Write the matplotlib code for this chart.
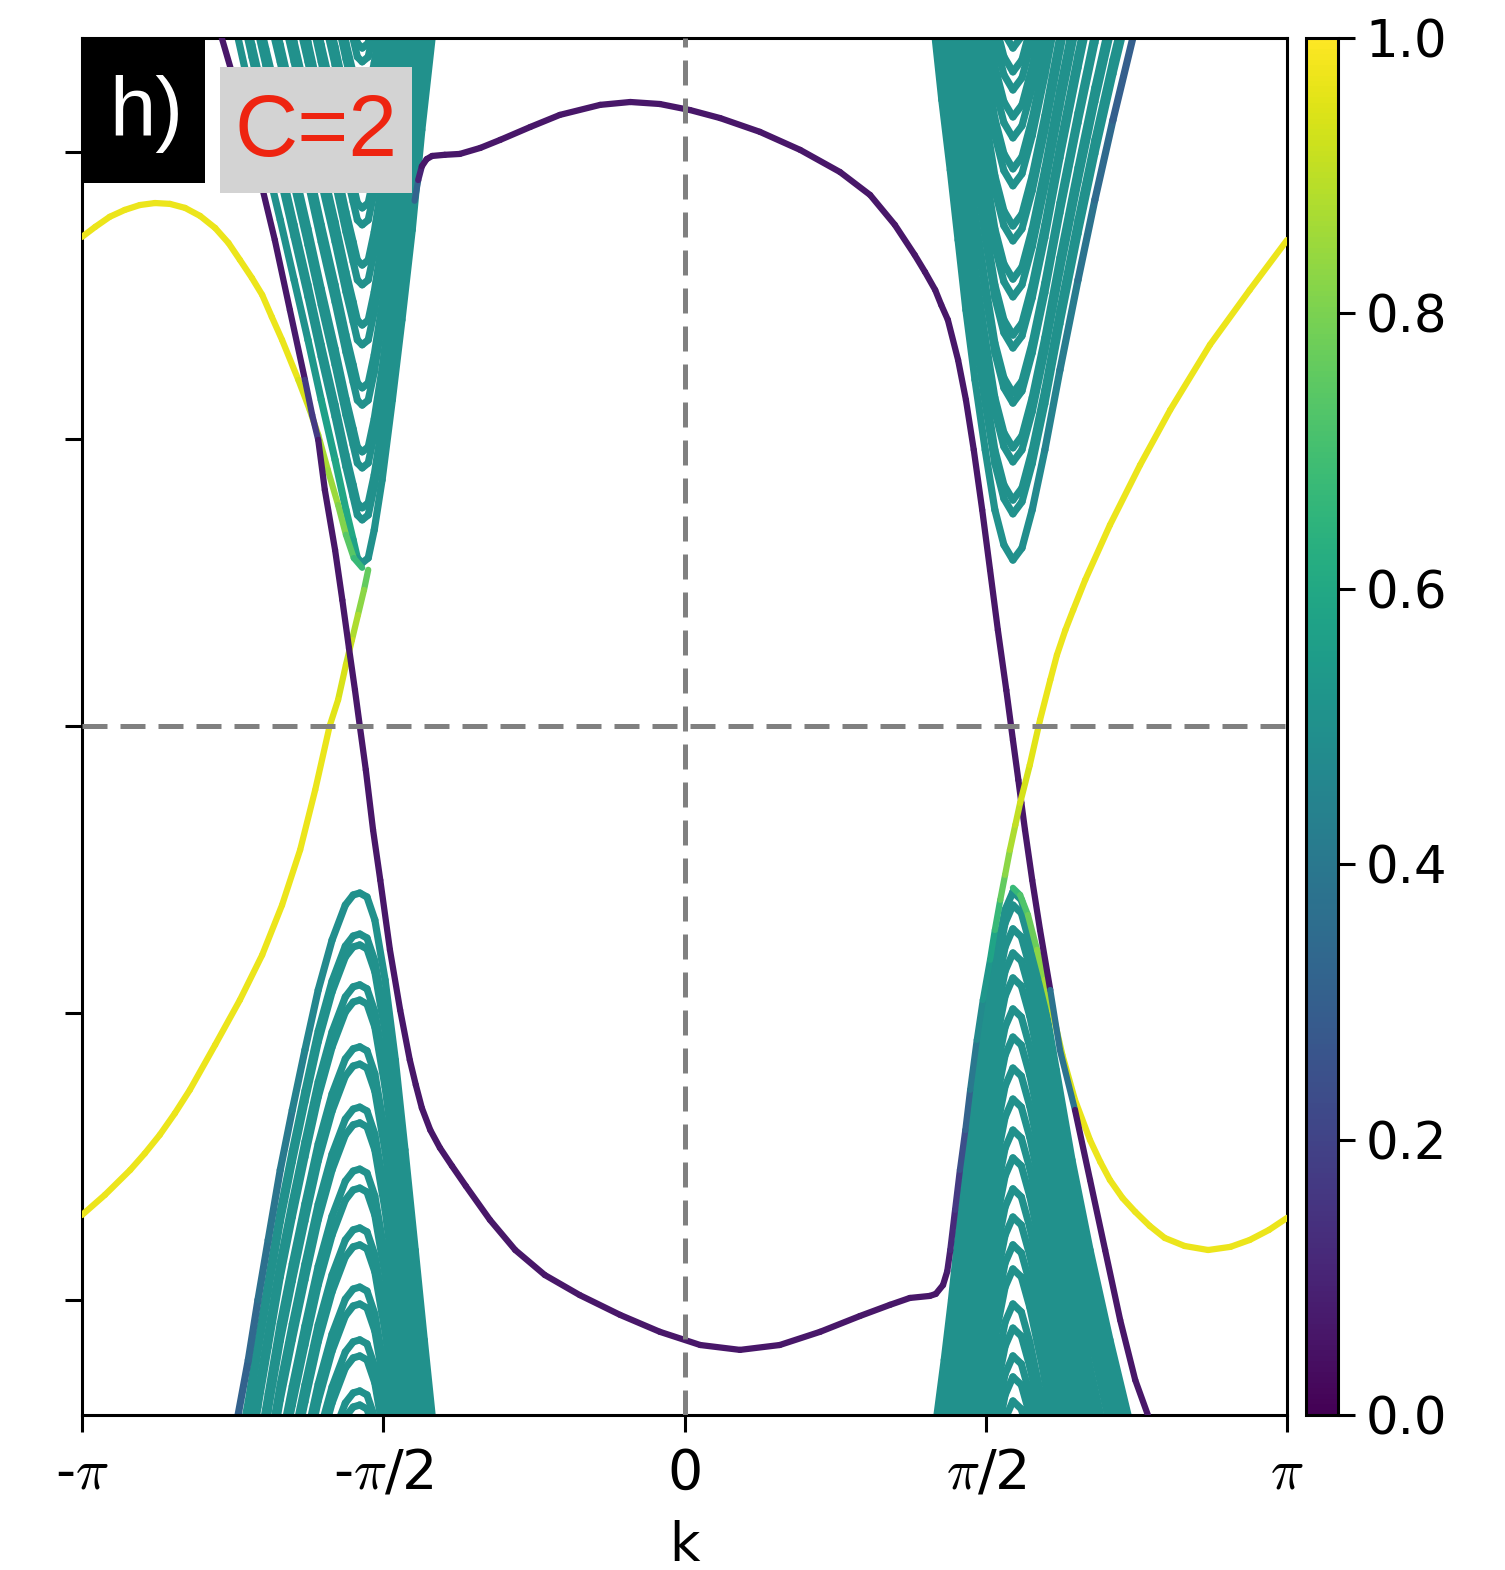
import numpy as np
import matplotlib
matplotlib.use("Agg")
import matplotlib.pyplot as plt
from matplotlib.collections import LineCollection
from matplotlib.patches import Rectangle

plt.rcParams["mathtext.fontset"] = "cm"

# k in units of pi, E in units of the (unlabelled) y tick spacing, w = colour weight 0..1

# edge state running from top-left, along the bottom, up into the lower right cone and out to k=pi
edge_a = [
    (-0.768, 2.397, .06), (-0.738, 2.181, .06), (-0.708, 1.937, .06), (-0.680, 1.693, .06),
    (-0.655, 1.449, .06), (-0.630, 1.206, .08), (-0.618, 1.084, .25), (-0.608, 0.997, .08),
    (-0.597, 0.822, .06), (-0.580, 0.613, .06), (-0.568, 0.439, .06), (-0.557, 0.272, .06),
    (-0.547, 0.125, .06), (-0.539, 0.000, .06), (-0.529, -0.153, .06), (-0.517, -0.362, .06),
    (-0.505, -0.537, .06), (-0.489, -0.780, .06), (-0.472, -0.990, .06), (-0.456, -1.164, .06),
    (-0.446, -1.251, .06), (-0.436, -1.331, .06), (-0.422, -1.408, .06), (-0.406, -1.470, .06),
    (-0.386, -1.533, .06), (-0.363, -1.603, .06), (-0.323, -1.721, .06), (-0.281, -1.826, .06),
    (-0.232, -1.913, .06), (-0.174, -1.983, .06), (-0.107, -2.052, .06), (-0.041, -2.111, .06),
    (0.026, -2.157, .06), (0.092, -2.174, .06), (0.158, -2.157, .06), (0.225, -2.111, .06),
    (0.291, -2.056, .06), (0.341, -2.017, .06), (0.374, -1.993, .06), (0.407, -1.986, .06),
    (0.417, -1.979, .06), (0.429, -1.948, .06), (0.436, -1.900, .07),
    (0.441, -1.826, .10), (0.449, -1.686, .14), (0.457, -1.547, .20), (0.466, -1.408, .28),
    (0.474, -1.268, .35), (0.485, -1.094, .45), (0.495, -0.955, .50), (0.507, -0.815, .55),
    (0.515, -0.711, .62), (0.524, -0.606, .72), (0.532, -0.519, .80), (0.540, -0.432, .85),
    (0.549, -0.345, .90), (0.557, -0.268, .92), (0.573, -0.136, .95), (0.590, 0.021, .96),
    (0.607, 0.160, .97), (0.618, 0.247, .97), (0.632, 0.334, .97), (0.645, 0.404, .97),
    (0.665, 0.509, .97), (0.706, 0.700, .97), (0.756, 0.909, .97), (0.806, 1.101, .97),
    (0.872, 1.328, .97), (0.938, 1.519, .97), (1.000, 1.693, .97),
]

# edge state leaving the upper left cone, over the top, down to the bottom right
edge_b = [
    (-0.448, 1.830, .50), (-0.442, 1.902, .14),
    (-0.436, 1.950, .06), (-0.428, 1.975, .06), (-0.419, 1.986, .06), (-0.398, 1.990, .06),
    (-0.373, 1.993, .06), (-0.339, 2.014, .06), (-0.306, 2.042, .06), (-0.256, 2.087, .06),
    (-0.207, 2.129, .06), (-0.140, 2.164, .06), (-0.090, 2.174, .06), (-0.041, 2.167, .06),
    (0.009, 2.146, .06), (0.059, 2.118, .06), (0.125, 2.070, .06), (0.192, 2.007, .06),
    (0.258, 1.930, .06), (0.308, 1.850, .06), (0.349, 1.746, .06), (0.382, 1.641, .06),
    (0.399, 1.582, .06), (0.416, 1.519, .06), (0.426, 1.467, .06),
    (0.437, 1.415, .06), (0.454, 1.275, .06), (0.467, 1.136, .06), (0.480, 0.962, .06),
    (0.494, 0.753, .06), (0.507, 0.544, .06), (0.520, 0.334, .06), (0.534, 0.125, .06),
    (0.545, -0.049, .06), (0.554, -0.188, .06), (0.559, -0.268, .06), (0.565, -0.362, .06),
    (0.577, -0.537, .06), (0.590, -0.711, .06), (0.607, -0.920, .06), (0.623, -1.129, .70),
    (0.648, -1.338, .06), (0.673, -1.582, .06), (0.698, -1.826, .06), (0.723, -2.070, .06),
    (0.748, -2.279, .06), (0.769, -2.401, .06),
]

# yellow state from k=-pi down along the left arm of the upper left cone
edge_c = [
    (-1.000, 1.704, .97), (-0.978, 1.739, .97), (-0.954, 1.774, .97), (-0.929, 1.798, .97),
    (-0.904, 1.815, .97), (-0.879, 1.822, .97), (-0.854, 1.819, .97), (-0.829, 1.805, .97),
    (-0.804, 1.777, .97), (-0.779, 1.735, .97), (-0.757, 1.683, .97), (-0.738, 1.624, .97),
    (-0.718, 1.561, .97), (-0.701, 1.502, .97), (-0.685, 1.425, .97), (-0.668, 1.345, .97),
    (-0.641, 1.206, .96), (-0.622, 1.101, .92), (-0.608, 1.014, .88), (-0.592, 0.892, .86),
    (-0.575, 0.770, .84), (-0.562, 0.666, .78), (-0.549, 0.585, .70), (-0.535, 0.551, .65),
]

# yellow state from the upper left cone apex down to k=-pi
edge_d = [
    (-0.525, 0.544, .72), (-0.532, 0.474, .80), (-0.542, 0.387, .85), (-0.552, 0.300, .90),
    (-0.562, 0.213, .93), (-0.575, 0.091, .95), (-0.589, 0.000, .96), (-0.613, -0.223, .97),
    (-0.638, -0.432, .97), (-0.668, -0.624, .97), (-0.701, -0.798, .97), (-0.738, -0.955, .97),
    (-0.779, -1.111, .97), (-0.821, -1.268, .97), (-0.846, -1.350, .97), (-0.871, -1.425, .97),
    (-0.896, -1.490, .97), (-0.920, -1.547, .97), (-0.962, -1.634, .97), (-1.000, -1.704, .97),
]

# yellow state from the lower right cone apex out to k=pi
edge_e = [
    (0.545, -0.564, .65), (0.557, -0.589, .70), (0.570, -0.659, .75), (0.585, -0.780, .80),
    (0.598, -0.885, .85), (0.610, -0.990, .88), (0.627, -1.146, .93), (0.648, -1.303, .96),
    (0.673, -1.443, .97), (0.690, -1.519, .97), (0.706, -1.582, .97), (0.727, -1.645, .97),
    (0.748, -1.693, .97), (0.772, -1.742, .97), (0.797, -1.784, .97), (0.830, -1.812, .97),
    (0.869, -1.826, .97), (0.906, -1.815, .97), (0.938, -1.791, .97), (0.970, -1.756, .97),
    (1.000, -1.714, .97),
]

# outermost bulk subband of each cone
cone_ul = [
    (-0.741, 2.397, .50), (-0.718, 2.181, .50), (-0.695, 1.972, .50), (-0.671, 1.763, .50),
    (-0.648, 1.554, .50), (-0.625, 1.345, .52), (-0.603, 1.136, .55), (-0.580, 0.927, .58),
    (-0.562, 0.753, .60), (-0.550, 0.648, .60), (-0.543, 0.585, .55), (-0.535, 0.568, .50),
    (-0.525, 0.585, .50), (-0.515, 0.683, .50), (-0.502, 0.857, .50), (-0.485, 1.136, .50),
    (-0.469, 1.415, .50), (-0.452, 1.728, .50), (-0.436, 2.077, .50), (-0.419, 2.397, .50),
]
cone_ll = [
    (-0.741, -2.401, .30), (-0.724, -2.209, .32), (-0.708, -2.000, .35), (-0.691, -1.791, .38),
    (-0.671, -1.547, .40), (-0.651, -1.338, .42), (-0.630, -1.129, .45), (-0.608, -0.920, .47),
    (-0.585, -0.746, .48), (-0.563, -0.624, .50), (-0.550, -0.589, .50), (-0.539, -0.582, .50),
    (-0.527, -0.596, .50), (-0.514, -0.676, .50), (-0.497, -0.885, .50), (-0.480, -1.164, .50),
    (-0.464, -1.477, .50), (-0.447, -1.826, .50), (-0.432, -2.139, .50), (-0.419, -2.401, .50),
]
cone_ur = [
    (0.416, 2.397, .50), (0.427, 2.181, .50), (0.441, 1.937, .50), (0.454, 1.693, .50),
    (0.467, 1.449, .50), (0.482, 1.206, .50), (0.499, 0.962, .50), (0.515, 0.753, .50),
    (0.530, 0.631, .50), (0.545, 0.578, .50), (0.560, 0.620, .50), (0.577, 0.753, .48),
    (0.598, 0.962, .46), (0.623, 1.240, .43), (0.653, 1.554, .40), (0.681, 1.833, .36),
    (0.711, 2.111, .32), (0.744, 2.397, .28),
]
cone_lr = [
    (0.419, -2.401, .50), (0.431, -2.209, .50), (0.443, -2.000, .50), (0.457, -1.721, .50),
    (0.471, -1.477, .50), (0.485, -1.233, .50), (0.502, -0.990, .50), (0.519, -0.780, .50),
    (0.532, -0.641, .50), (0.545, -0.578, .50), (0.559, -0.606, .50), (0.573, -0.711, .50),
    (0.594, -0.920, .50), (0.617, -1.199, .50), (0.643, -1.512, .50), (0.673, -1.826, .50),
    (0.706, -2.139, .50), (0.736, -2.401, .50),
]

# apex energies of the nested subbands in each cone (first one = outermost)
apex_ul = [0.568, 0.718, 0.760, 0.899, 0.955, 1.118, 1.178, 1.328, 1.397, 1.537,
           1.606, 1.746, 1.805, 1.944, 2.007, 2.139, 2.195, 2.314, 2.362]
apex_ll = [-0.582, -0.725, -0.763, -0.902, -0.955, -1.118, -1.178, -1.328, -1.383, -1.544,
           -1.610, -1.749, -1.808, -1.955, -2.014, -2.139, -2.195, -2.317, -2.366]
apex_ur = [0.578, 0.739, 0.787, 0.920, 0.969, 1.125, 1.160, 1.317, 1.362, 1.495,
           1.557, 1.690, 1.742, 1.882, 1.941, 2.049, 2.122, 2.216, 2.279, 2.362]
apex_lr = [-0.578, -0.624, -0.707, -0.791, -0.878, -0.986, -1.084, -1.192, -1.300, -1.408,
           -1.505, -1.613, -1.711, -1.808, -1.892, -2.014, -2.098, -2.195, -2.268, -2.352]

xtick_vals = [-1, -0.5, 0, 0.5, 1]
xtick_labels = ["-$\\pi$", "-$\\pi$/2", "0", "$\\pi$/2", "$\\pi$"]
ytick_vals = [-2, -1, 0, 1, 2]
cbar_ticks = [0.0, 0.2, 0.4, 0.6, 0.8, 1.0]

norm = plt.Normalize(0, 1)


def draw_curve(ax, pts, lw, z, shift=0.0, weight=None):
    arr = np.array(pts, dtype=float)
    k = arr[:, 0] * np.pi
    e = arr[:, 1] + shift
    w = arr[:, 2] if weight is None else np.full(len(arr), weight)
    p = np.column_stack([k, e])
    segs = np.stack([p[:-1], p[1:]], axis=1)
    lc = LineCollection(segs, cmap="viridis", norm=norm, linewidths=lw,
                        capstyle="round", joinstyle="round", zorder=z)
    lc.set_array(0.5 * (w[:-1] + w[1:]))
    ax.add_collection(lc)


fig = plt.figure(figsize=(15.05, 15.70), dpi=100)
ax = fig.add_axes([0.0545, 0.0987, 0.8007, 0.8771])
cax = fig.add_axes([0.8675, 0.0987, 0.0215, 0.8771])

# bulk bands
for prof, apexes in [(cone_ul, apex_ul), (cone_ll, apex_ll), (cone_ur, apex_ur), (cone_lr, apex_lr)]:
    for i in range(len(apexes) - 1, -1, -1):
        draw_curve(ax, prof, 5.2, 2, shift=apexes[i] - apexes[0],
                   weight=None if i == 0 else 0.5)

# edge / hybridised states
for pts in [edge_c, edge_d, edge_e, edge_b, edge_a]:
    draw_curve(ax, pts, 4.5, 3)

ax.axhline(0, color="gray", lw=3.6, ls=(0, (5, 2.6)), zorder=4)
ax.axvline(0, color="gray", lw=3.6, ls=(0, (5, 2.6)), zorder=4)

ax.set_xlim(-np.pi, np.pi)
ax.set_ylim(-2.401, 2.397)
ax.set_xticks(np.array(xtick_vals) * np.pi)
ax.set_xticklabels(xtick_labels)
ax.set_yticks(ytick_vals)
ax.set_yticklabels([])
ax.tick_params(axis="both", direction="out", length=12, width=2.2, labelsize=40, pad=11)
for s in ax.spines.values():
    s.set_linewidth(2.2)
ax.set_xlabel("k", fontsize=38, labelpad=14)

# panel label boxes
ax.add_patch(Rectangle((0.0, 0.8947), 0.102, 0.1053, transform=ax.transAxes,
                       facecolor="black", edgecolor="none", zorder=6, clip_on=False))
ax.text(0.0530, 0.9450, "h)", transform=ax.transAxes, color="white", fontsize=60,
        family="Liberation Sans", ha="center", va="center", zorder=7)
ax.add_patch(Rectangle((0.1145, 0.8874), 0.1594, 0.0915, transform=ax.transAxes,
                       facecolor="#d3d3d3", edgecolor="none", zorder=6))
ax.text(0.1942, 0.9310, "C=2", transform=ax.transAxes, color="#ee2410", fontsize=63,
        family="Liberation Sans", ha="center", va="center", zorder=7)

sm = plt.cm.ScalarMappable(cmap="viridis", norm=norm)
cb = fig.colorbar(sm, cax=cax, ticks=cbar_ticks)
cb.ax.set_yticklabels([f"{t:.1f}" for t in cbar_ticks])
cb.ax.tick_params(length=12, width=2.2, labelsize=37, pad=8)
cb.outline.set_linewidth(2.2)

fig.savefig("out.png", dpi=100)
